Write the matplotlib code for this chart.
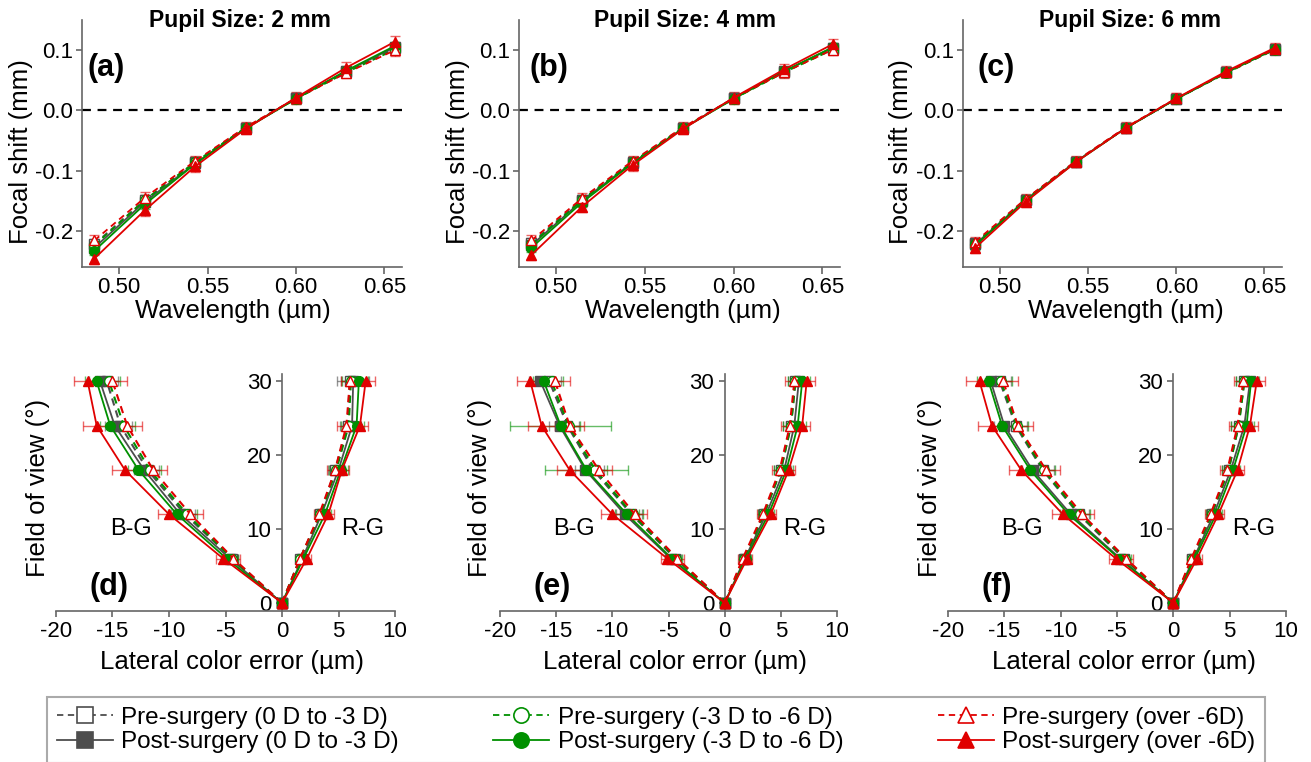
import numpy as np
import matplotlib
matplotlib.use("Agg")
import matplotlib.pyplot as plt
from matplotlib.lines import Line2D

plt.rcParams['font.family'] = ['Liberation Sans', 'DejaVu Sans']
plt.rcParams['axes.unicode_minus'] = False

# ---------------- data ----------------
wavelength = [0.486, 0.5145, 0.543, 0.5715, 0.600, 0.6285, 0.656]
fov = [0, 6, 12, 18, 24, 30]

groups = ['Pre-surgery (0 D to -3 D)', 'Post-surgery (0 D to -3 D)',
          'Pre-surgery (-3 D to -6 D)', 'Post-surgery (-3 D to -6 D)',
          'Pre-surgery (over -6D)', 'Post-surgery (over -6D)']
pupil_sizes = ['2 mm', '4 mm', '6 mm']
top_tags = ['(a)', '(b)', '(c)']
bottom_tags = ['(d)', '(e)', '(f)']

# focal shift (mm), rows follow `groups`
focal_2mm = [[-0.222, -0.149, -0.086, -0.029, 0.020, 0.064, 0.103],
             [-0.228, -0.152, -0.088, -0.030, 0.020, 0.065, 0.105],
             [-0.224, -0.149, -0.086, -0.029, 0.019, 0.063, 0.101],
             [-0.233, -0.156, -0.089, -0.030, 0.019, 0.066, 0.107],
             [-0.216, -0.145, -0.084, -0.028, 0.020, 0.062, 0.100],
             [-0.246, -0.166, -0.093, -0.031, 0.021, 0.071, 0.114]]
focal_4mm = [[-0.220, -0.148, -0.086, -0.029, 0.020, 0.064, 0.102],
             [-0.224, -0.150, -0.087, -0.030, 0.020, 0.065, 0.104],
             [-0.222, -0.149, -0.086, -0.029, 0.019, 0.063, 0.101],
             [-0.228, -0.153, -0.088, -0.030, 0.019, 0.065, 0.105],
             [-0.216, -0.146, -0.084, -0.028, 0.020, 0.063, 0.101],
             [-0.240, -0.160, -0.091, -0.031, 0.021, 0.068, 0.110]]
focal_6mm = [[-0.220, -0.148, -0.085, -0.029, 0.019, 0.063, 0.101],
             [-0.222, -0.149, -0.085, -0.029, 0.019, 0.063, 0.102],
             [-0.221, -0.148, -0.085, -0.029, 0.019, 0.062, 0.101],
             [-0.224, -0.150, -0.086, -0.029, 0.019, 0.063, 0.102],
             [-0.218, -0.147, -0.084, -0.028, 0.020, 0.063, 0.102],
             [-0.228, -0.152, -0.086, -0.029, 0.020, 0.065, 0.104]]
focal_err_2mm = [0.008, 0.007, 0.008, 0.007, 0.009, 0.009]
focal_err_4mm = [0.008, 0.007, 0.008, 0.007, 0.009, 0.009]
focal_err_6mm = [0.007, 0.007, 0.007, 0.007, 0.008, 0.008]

# lateral color error (um) vs field of view, B-G (negative) and R-G (positive)
bg_2mm = [[0, -4.4, -8.6, -11.9, -14.3, -15.5],
          [0, -4.6, -9.0, -12.2, -14.8, -16.1],
          [0, -4.4, -8.4, -11.7, -14.0, -15.3],
          [0, -4.9, -9.3, -12.7, -15.2, -16.4],
          [0, -4.3, -8.1, -11.4, -13.7, -15.0],
          [0, -5.2, -10.0, -13.9, -16.4, -17.2]]
rg_2mm = [[0, 1.6, 3.4, 4.7, 5.8, 6.0],
          [0, 1.8, 3.5, 5.0, 6.2, 6.3],
          [0, 1.6, 3.4, 4.8, 5.9, 6.1],
          [0, 1.9, 3.8, 5.2, 6.6, 6.8],
          [0, 1.6, 3.3, 4.7, 5.7, 6.0],
          [0, 2.2, 4.1, 5.3, 6.9, 7.4]]
bg_err_2mm = [[0, 0.5, 0.9, 1.0, 1.0, 1.0],
              [0, 0.5, 0.8, 0.9, 0.9, 1.0],
              [0, 0.5, 0.9, 1.0, 1.0, 1.0],
              [0, 0.5, 0.8, 0.9, 0.9, 1.0],
              [0, 0.6, 1.1, 1.2, 1.3, 1.3],
              [0, 0.6, 1.0, 1.1, 1.2, 1.2]]
rg_err_2mm = [[0, 0.4, 0.5, 0.6, 0.7, 0.8],
              [0, 0.4, 0.5, 0.6, 0.8, 1.4],
              [0, 0.4, 0.5, 0.6, 0.7, 0.8],
              [0, 0.4, 0.5, 0.6, 0.7, 0.8],
              [0, 0.4, 0.5, 0.7, 0.8, 0.8],
              [0, 0.4, 0.5, 0.6, 0.7, 0.8]]

bg_4mm = [[0, -4.4, -8.3, -11.7, -14.0, -15.6],
          [0, -4.8, -8.9, -12.4, -14.7, -16.4],
          [0, -4.3, -8.2, -11.5, -13.9, -15.4],
          [0, -4.7, -8.7, -12.3, -14.6, -16.1],
          [0, -4.2, -8.0, -11.2, -13.8, -15.1],
          [0, -5.1, -10.0, -13.8, -16.3, -17.3]]
rg_4mm = [[0, 1.7, 3.5, 5.0, 5.9, 6.3],
          [0, 1.8, 3.7, 5.3, 6.2, 6.6],
          [0, 1.7, 3.5, 5.0, 5.9, 6.3],
          [0, 1.9, 3.9, 5.5, 6.5, 6.9],
          [0, 1.6, 3.4, 4.9, 5.8, 6.2],
          [0, 2.0, 4.1, 5.7, 6.9, 7.3]]
bg_err_4mm = [[0, 0.5, 0.9, 1.0, 1.0, 1.0],
              [0, 0.5, 0.8, 0.9, 0.9, 1.0],
              [0, 0.5, 0.9, 1.0, 1.0, 1.0],
              [0, 0.6, 1.1, 3.7, 4.5, 1.0],
              [0, 0.6, 1.1, 1.2, 1.3, 1.3],
              [0, 0.6, 1.0, 1.1, 1.2, 1.2]]
rg_err_4mm = [[0, 0.4, 0.5, 0.6, 0.7, 0.7],
              [0, 0.4, 0.5, 0.6, 0.7, 0.7],
              [0, 0.4, 0.5, 0.6, 0.7, 0.7],
              [0, 0.4, 0.5, 0.6, 0.7, 0.7],
              [0, 0.4, 0.5, 0.7, 0.8, 0.8],
              [0, 0.4, 0.5, 0.6, 0.7, 0.7]]

bg_6mm = [[0, -4.4, -8.4, -11.6, -14.0, -15.4],
          [0, -4.7, -9.1, -12.5, -15.0, -16.2],
          [0, -4.3, -8.3, -11.5, -13.9, -15.3],
          [0, -4.8, -9.3, -12.7, -15.2, -16.4],
          [0, -4.2, -8.1, -11.3, -13.8, -15.1],
          [0, -5.1, -9.8, -13.5, -16.1, -17.2]]
rg_6mm = [[0, 1.7, 3.4, 4.9, 5.8, 6.3],
          [0, 1.8, 3.6, 5.1, 6.3, 6.8],
          [0, 1.7, 3.4, 4.9, 5.8, 6.3],
          [0, 1.9, 3.8, 5.3, 6.5, 6.9],
          [0, 1.6, 3.3, 4.8, 5.7, 6.2],
          [0, 2.1, 4.0, 5.7, 6.8, 7.4]]
bg_err_6mm = [[0, 0.5, 0.9, 1.0, 1.0, 1.0],
              [0, 0.5, 0.8, 0.9, 0.9, 1.0],
              [0, 0.5, 0.9, 1.0, 1.0, 1.0],
              [0, 0.5, 0.8, 0.9, 0.9, 1.0],
              [0, 0.6, 1.1, 1.2, 1.3, 1.3],
              [0, 0.6, 1.0, 1.1, 1.2, 1.2]]
rg_err_6mm = [[0, 0.4, 0.5, 0.6, 0.7, 0.7],
              [0, 0.4, 0.5, 0.6, 0.7, 0.7],
              [0, 0.4, 0.5, 0.6, 0.7, 0.7],
              [0, 0.4, 0.5, 0.6, 0.7, 0.7],
              [0, 0.4, 0.5, 0.7, 0.8, 0.8],
              [0, 0.4, 0.5, 0.6, 0.7, 0.7]]

focal_all = [focal_2mm, focal_4mm, focal_6mm]
focal_err_all = [focal_err_2mm, focal_err_4mm, focal_err_6mm]
bg_all = [bg_2mm, bg_4mm, bg_6mm]
rg_all = [rg_2mm, rg_4mm, rg_6mm]
bg_err_all = [bg_err_2mm, bg_err_4mm, bg_err_6mm]
rg_err_all = [rg_err_2mm, rg_err_4mm, rg_err_6mm]

# ---------------- styles ----------------
colors = ['#4d4d4d', '#4d4d4d', '#009000', '#009000', '#e00000', '#e00000']
markers = ['s', 's', 'o', 'o', '^', '^']
is_pre = [True, False, True, False, True, False]
AXCOL = '#666666'

W, H = 1311, 762
fig = plt.figure(figsize=(W / 100, H / 100), dpi=100)


def px_axes(left, top, right, bottom):
    # axes placed by pixel box of the reference
    return fig.add_axes([left / W, 1 - bottom / H, (right - left) / W, (bottom - top) / H])


def style(i):
    if is_pre[i]:
        return dict(color=colors[i], ls=(0, (3.5, 2.5)), marker=markers[i],
                    mfc='white', mec=colors[i])
    return dict(color=colors[i], ls='-', marker=markers[i],
                mfc=colors[i], mec=colors[i])


def setup_spines(ax):
    for s in ['top', 'right']:
        ax.spines[s].set_visible(False)
    for s in ['left', 'bottom']:
        ax.spines[s].set_color(AXCOL)
        ax.spines[s].set_linewidth(1.2)
    ax.tick_params(colors=AXCOL, labelcolor='black', labelsize=16, width=1.2)


top_boxes = [(82, 20, 402, 267), (519, 20, 840, 267), (963, 20, 1282, 267)]
top_tag_x = [0.016, 0.034, 0.047]
title_x = [0.494, 0.517, 0.523]
xlab_x = [0.47, 0.51, 0.51]
ylab_x = [-0.153, -0.153, -0.157]
for k in range(3):
    ax = px_axes(*top_boxes[k])
    setup_spines(ax)
    ax.axhline(0, color='black', lw=1.6, ls=(0, (4, 3)), zorder=1)
    for i in range(6):
        y = focal_all[k][i]
        ax.errorbar(wavelength, y, yerr=focal_err_all[k][i], fmt='none',
                    ecolor=colors[i], elinewidth=1.0, capsize=3.5, alpha=0.6, zorder=2)
        ax.plot(wavelength, y, lw=1.3, ms=7, mew=1.0, zorder=3, **style(i))
    ax.set_xlim(0.479, 0.660)
    ax.set_ylim(-0.26, 0.15)
    ax.set_xticks([0.50, 0.55, 0.60, 0.65])
    ax.set_xticklabels(['0.50', '0.55', '0.60', '0.65'])
    ax.set_yticks([-0.2, -0.1, 0.0, 0.1])
    ax.set_yticklabels(['-0.2', '-0.1', '0.0', '0.1'])
    ax.tick_params(axis='y', length=4.5, pad=2)
    ax.tick_params(axis='x', length=5, pad=2)
    ax.set_xlabel('Wavelength (µm)', fontsize=18.5)
    ax.set_ylabel('Focal shift (mm)', fontsize=18.5)
    ax.xaxis.set_label_coords(xlab_x[k], -0.13)
    ax.yaxis.set_label_coords(ylab_x[k], 0.466)
    ax.text(top_tag_x[k], 0.806, top_tags[k], transform=ax.transAxes,
            fontsize=22, fontweight='bold', ha='left', va='center')
    ax.text(title_x[k], 1.0 - 7 / 247, 'Pupil Size: ' + pupil_sizes[k],
            transform=ax.transAxes, fontsize=16.5, fontweight='bold',
            ha='center', va='baseline')

bottom_boxes = [(56, 374, 395, 611), (500, 374, 837, 611), (948, 374, 1286, 611)]
fov_lab_x = [-0.018, -0.024, -0.018]
for k in range(3):
    ax = px_axes(*bottom_boxes[k])
    setup_spines(ax)
    ax.spines['left'].set_position(('data', 0))
    for i in range(6):
        for xs, es in [(bg_all[k][i], bg_err_all[k][i]), (rg_all[k][i], rg_err_all[k][i])]:
            ax.errorbar(xs[1:], fov[1:], xerr=es[1:], fmt='none', ecolor=colors[i],
                        elinewidth=1.0, capsize=3.5, alpha=0.6, zorder=2)
            ax.plot(xs, fov, lw=1.5 if is_pre[i] else 1.3, ms=7, mew=1.0,
                    zorder=3, **style(i))
    ax.set_xlim(-20, 10)
    ax.set_ylim(-1.1, 31)
    ax.set_xticks([-20, -15, -10, -5, 0, 5, 10])
    ax.set_yticks([0, 10, 20, 30])
    ax.tick_params(axis='both', length=4.5, pad=3)
    ax.text(-13.4, 10, 'B-G', fontsize=17, ha='center', va='center')
    ax.text(7.1, 10, 'R-G', fontsize=17, ha='center', va='center')
    ax.text(0.10, 0.10, bottom_tags[k], transform=ax.transAxes,
            fontsize=22, fontweight='bold', ha='left', va='center')
    ax.set_xlabel('Lateral color error (µm)', fontsize=18.5)
    ax.set_ylabel('Field of view (°)', fontsize=18.5)
    ax.xaxis.set_label_coords(0.52, -0.165)
    ax.yaxis.set_label_coords(fov_lab_x[k], 0.52)

handles = [Line2D([], [], lw=1.3, ms=11, mew=1.2, **style(i)) for i in range(6)]
leg = fig.legend(handles, groups, ncol=3, loc='upper left',
                 bbox_to_anchor=(47 / W, 1 - 697 / H, (1265 - 47) / W, 0),
                 mode='expand', borderaxespad=0, fontsize=17.5, frameon=True,
                 fancybox=False, edgecolor='#aaaaaa', framealpha=1,
                 handlelength=2.3, handletextpad=0.35, labelspacing=0.1,
                 borderpad=0.4)
leg.get_frame().set_linewidth(1.5)

fig.savefig('out.png', dpi=100)
